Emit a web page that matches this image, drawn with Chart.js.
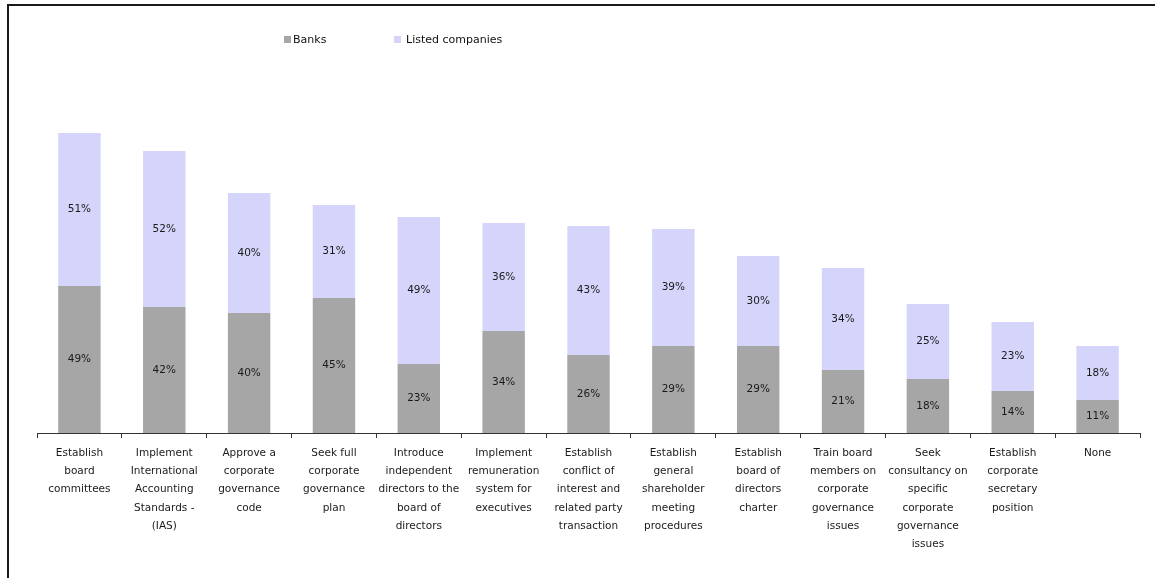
<!DOCTYPE html>
<html>
<head>
<meta charset="utf-8">
<script src="https://cdn.jsdelivr.net/npm/chart.js@4/dist/chart.umd.min.js"></script>
<style>
  html, body { margin: 0; padding: 0; background: #fff; overflow: hidden; }
  #wrap { position: relative; width: 1155px; height: 578px; }
  #frame { position: absolute; left: 7px; top: 4px; width: 1300px; height: 700px;
           border-left: 2px solid #1a1a1a; border-top: 2px solid #1a1a1a; box-sizing: border-box; }
  canvas { position: absolute; left: 0; top: 0; }
</style>
</head>
<body>
<div id="wrap">
  <canvas id="c" width="1155" height="578"></canvas>
  <div id="frame"></div>
</div>
<script>
const categories = [
  ["Establish", "board", "committees"],
  ["Implement", "International", "Accounting", "Standards -", "(IAS)"],
  ["Approve a", "corporate", "governance", "code"],
  ["Seek full", "corporate", "governance", "plan"],
  ["Introduce", "independent", "directors to the", "board of", "directors"],
  ["Implement", "remuneration", "system for", "executives"],
  ["Establish", "conflict of", "interest and", "related party", "transaction"],
  ["Establish", "general", "shareholder", "meeting", "procedures"],
  ["Establish", "board of", "directors", "charter"],
  ["Train board", "members on", "corporate", "governance", "issues"],
  ["Seek", "consultancy on", "specific", "corporate", "governance", "issues"],
  ["Establish", "corporate", "secretary", "position"],
  ["None"]
];
const banks = [49, 42, 40, 45, 23, 34, 26, 29, 29, 21, 18, 14, 11];
const listedCompanies = [51, 52, 40, 31, 49, 36, 43, 39, 30, 34, 25, 23, 18];
const seriesNames = ["Banks", "Listed companies"];
const seriesColors = ["#a6a6a6", "#d5d5fb"];

const FONT = "'DejaVu Sans', sans-serif";

// Percent labels centred in each stacked segment
const segmentLabels = {
  id: 'segmentLabels',
  afterDatasetsDraw(chart) {
    const ctx = chart.ctx;
    ctx.save();
    ctx.font = "10.5px " + FONT;
    ctx.fillStyle = "#1a1a1a";
    ctx.textAlign = "center";
    ctx.textBaseline = "middle";
    chart.data.datasets.forEach((ds, di) => {
      const meta = chart.getDatasetMeta(di);
      meta.data.forEach((bar, i) => {
        const mid = (bar.y + bar.base) / 2;
        ctx.fillText(ds.data[i] + "%", bar.x, mid);
      });
    });
    ctx.restore();
  }
};

// Legend row with small square swatches
const topLegend = {
  id: 'topLegend',
  afterDraw(chart) {
    const ctx = chart.ctx;
    const xs = [284, 394];
    ctx.save();
    ctx.font = "11px " + FONT;
    ctx.textBaseline = "middle";
    ctx.textAlign = "left";
    chart.data.datasets.forEach((ds, i) => {
      ctx.fillStyle = ds.backgroundColor;
      ctx.fillRect(xs[i], 36, 7, 7);
      ctx.fillStyle = "#111";
      ctx.fillText(ds.label, xs[i] + (i === 0 ? 9 : 12), 40);
    });
    ctx.restore();
  }
};

new Chart(document.getElementById('c'), {
  type: 'bar',
  data: {
    labels: categories,
    datasets: [
      { label: seriesNames[0], data: banks, backgroundColor: seriesColors[0] },
      { label: seriesNames[1], data: listedCompanies, backgroundColor: seriesColors[1] }
    ]
  },
  options: {
    responsive: false,
    animation: false,
    events: [],
    layout: { padding: { left: 37, right: 15, top: 133, bottom: 0 } },
    datasets: { bar: { barPercentage: 0.5, categoryPercentage: 1.0 } },
    plugins: { legend: { display: false }, tooltip: { enabled: false } },
    scales: {
      x: {
        stacked: true,
        offset: true,
        afterFit(scale) { scale.height = 145; },
        border: { display: true, color: "#333", width: 1 },
        grid: { display: true, offset: true, drawOnChartArea: false, drawTicks: true,
                tickLength: 5, color: "#333" },
        ticks: { maxRotation: 0, autoSkip: false, padding: 6, color: "#1a1a1a",
                 font: { family: FONT, size: 10.5, lineHeight: 1.74 } }
      },
      y: {
        stacked: true,
        display: false,
        min: 0,
        max: 100
      }
    }
  },
  plugins: [segmentLabels, topLegend]
});
</script>
</body>
</html>
